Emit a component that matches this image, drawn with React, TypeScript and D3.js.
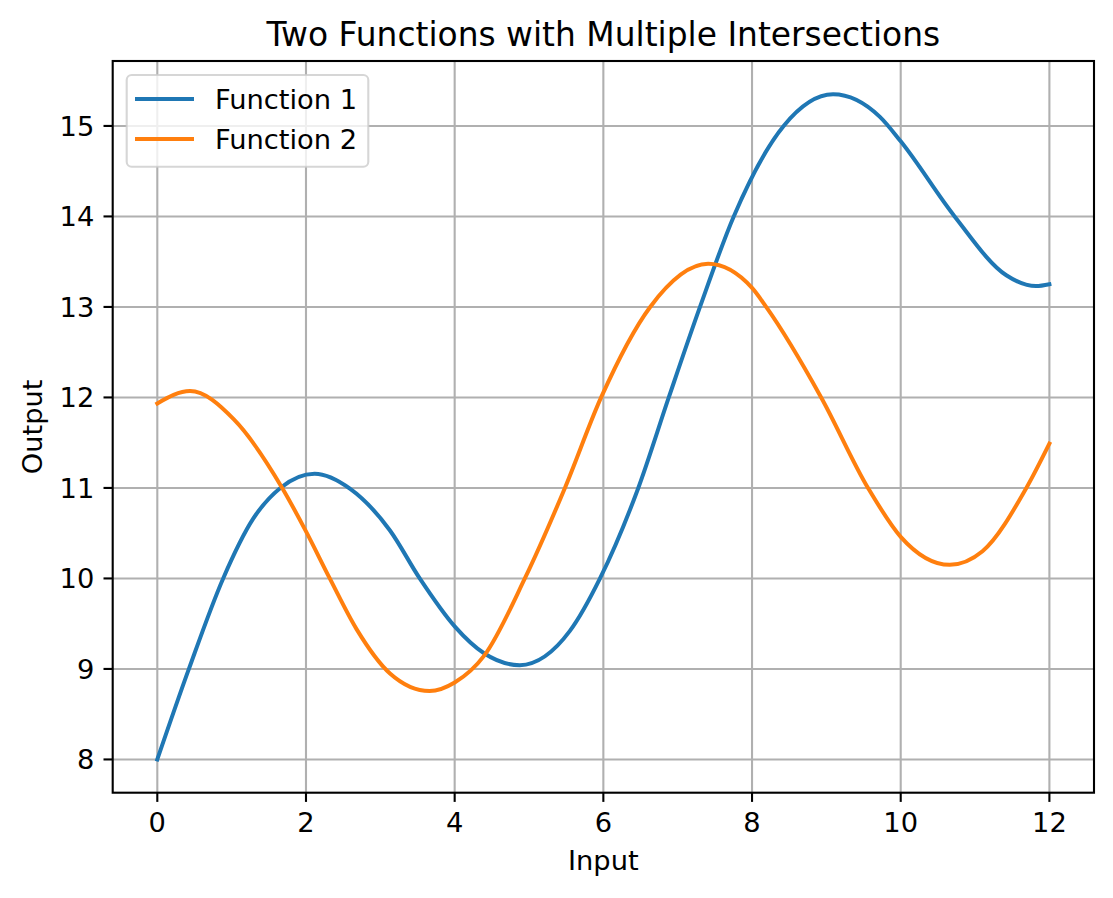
import React from 'react';
import * as d3 from 'd3';

// Values
const f1X = [0, 0.425, 0.886, 1.29, 1.655, 2.116, 2.595, 3.13, 3.53, 4.0, 4.4, 4.876, 5.55, 5.955, 6.47, 6.88, 7.3, 7.754, 8.425, 9.09, 9.72, 10.0, 10.725, 11.42, 11.82, 12.0];
const f1Y = [8.0, 9.0, 10.0, 10.66, 11.0, 11.157, 10.99, 10.53, 10.0, 9.47, 9.17, 9.042, 9.42, 10.0, 11.0, 12.0, 13.0, 14.0, 15.0, 15.35, 15.1, 14.83, 14.0, 13.35, 13.23, 13.25];
const f2X = [0, 0.44, 1.03, 1.68, 2.0, 2.32, 2.68, 3.13, 3.663, 4.0, 4.4, 4.944, 5.483, 5.97, 6.63, 7.41, 8.0, 8.19, 8.93, 9.56, 10.0, 10.66, 11.1, 11.69, 12.0];
const f2Y = [11.934, 12.07, 11.757, 11.0, 10.52, 10.0, 9.44, 8.95, 8.755, 8.85, 9.15, 10.0, 11.0, 12.0, 13.0, 13.476, 13.21, 13.0, 12.0, 11.0, 10.46, 10.15, 10.3, 11.0, 11.49];

const seriesNames = ['Function 1', 'Function 2'];
const seriesColors = ['#1f77b4', '#ff7f0e'];
const xTicks = [0, 2, 4, 6, 8, 10, 12];
const yTicks = [8, 9, 10, 11, 12, 13, 14, 15];
const titleText = 'Two Functions with Multiple Intersections';
const xLabel = 'Input';
const yLabel = 'Output';

const W = 1113;
const H = 898;
const L = 112.7, T = 61, R = 1094, B = 792.7;
const FONT = '"DejaVu Sans", sans-serif';
const FS = 27.3;

export default function App() {
  const allX = [...f1X, ...f2X];
  const allY = [...f1Y, ...f2Y];
  const [x0, x1] = d3.extent(allX) as [number, number];
  const [y0, y1] = d3.extent(allY) as [number, number];
  const mx = (x1 - x0) * 0.05;
  const my = (y1 - y0) * 0.05;
  const x = d3.scaleLinear().domain([x0 - mx, x1 + mx]).range([L, R]);
  const y = d3.scaleLinear().domain([y0 - my, y1 + my]).range([B, T]);

  const line = d3
    .line<[number, number]>()
    .x((d) => x(d[0]))
    .y((d) => y(d[1]))
    .curve(d3.curveMonotoneX);

  const series = [
    f1X.map((v, i) => [v, f1Y[i]] as [number, number]),
    f2X.map((v, i) => [v, f2Y[i]] as [number, number]),
  ];

  const tickLen = 9.2;
  const pad = 9.2;
  const gridColor = '#b0b0b0';

  return (
    <svg
      width={W}
      height={H}
      viewBox={`0 0 ${W} ${H}`}
      style={{ position: 'absolute', left: 0, top: 0, background: '#fff' }}
      fontFamily={FONT}
    >
      <rect x={0} y={0} width={W} height={H} fill="#fff" />
      <defs>
        <clipPath id="plotclip">
          <rect x={L} y={T} width={R - L} height={B - T} />
        </clipPath>
      </defs>
      {/* grid */}
      <g stroke={gridColor} strokeWidth={2.1}>
        {xTicks.map((t) => (
          <line key={'gx' + t} x1={x(t)} x2={x(t)} y1={T} y2={B} />
        ))}
        {yTicks.map((t) => (
          <line key={'gy' + t} x1={L} x2={R} y1={y(t)} y2={y(t)} />
        ))}
      </g>
      {/* lines */}
      <g clipPath="url(#plotclip)" fill="none" strokeWidth={4} strokeLinecap="square" strokeLinejoin="round">
        {series.map((s, i) => (
          <path key={i} d={line(s) || ''} stroke={seriesColors[i]} />
        ))}
      </g>
      {/* spines */}
      <rect x={L} y={T} width={R - L} height={B - T} fill="none" stroke="#000" strokeWidth={2.1} />
      {/* x ticks */}
      <g>
        {xTicks.map((t) => (
          <g key={'xt' + t}>
            <line x1={x(t)} x2={x(t)} y1={B} y2={B + tickLen} stroke="#000" strokeWidth={2.1} />
            <text x={x(t)} y={B + tickLen + pad + FS * 0.76} textAnchor="middle" fontSize={FS} fill="#000">
              {t}
            </text>
          </g>
        ))}
      </g>
      {/* y ticks */}
      <g>
        {yTicks.map((t) => (
          <g key={'yt' + t}>
            <line x1={L - tickLen} x2={L} y1={y(t)} y2={y(t)} stroke="#000" strokeWidth={2.1} />
            <text x={L - tickLen - pad} y={y(t)} dy="0.36em" textAnchor="end" fontSize={FS} fill="#000">
              {t}
            </text>
          </g>
        ))}
      </g>
      {/* axis labels */}
      <text x={(L + R) / 2} y={870} textAnchor="middle" fontSize={FS} fill="#000">
        {xLabel}
      </text>
      <text
        transform={`translate(42, ${(T + B) / 2}) rotate(-90)`}
        textAnchor="middle"
        fontSize={FS}
        fill="#000"
      >
        {yLabel}
      </text>
      {/* title */}
      <text x={(L + R) / 2} y={45.5} textAnchor="middle" fontSize={32.9} fill="#000">
        {titleText}
      </text>
      {/* legend */}
      <g>
        <rect
          x={126.7}
          y={75}
          width={241.6}
          height={91.7}
          rx={5}
          ry={5}
          fill="#fff"
          fillOpacity={0.8}
          stroke="#cccccc"
          strokeOpacity={0.8}
          strokeWidth={2.1}
        />
        {seriesNames.map((n, i) => (
          <g key={n}>
            <line x1={135} x2={194} y1={99 + i * 40} y2={99 + i * 40} stroke={seriesColors[i]} strokeWidth={4} />
            <text x={215} y={99 + i * 40} dy="0.36em" fontSize={FS} fill="#000">
              {n}
            </text>
          </g>
        ))}
      </g>
    </svg>
  );
}
